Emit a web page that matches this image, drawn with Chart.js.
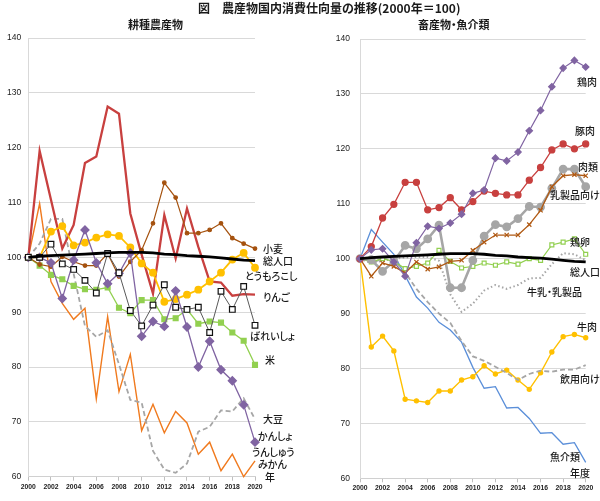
<!DOCTYPE html>
<html><head><meta charset="utf-8">
<script src="https://cdn.jsdelivr.net/npm/chart.js@4/dist/chart.umd.min.js"></script>
<style>
html,body{margin:0;padding:0;background:#fff;}
#wrap{position:relative;width:600px;height:501px;overflow:hidden;font-family:"Noto Sans CJK JP","Noto Sans",sans-serif;}
canvas{position:absolute;top:0;}
.t{position:absolute;white-space:nowrap;line-height:1;color:#1a1a1a;transform:translateY(-50%);font-feature-settings:"palt";}
.lb{font-size:10px;font-weight:500;}
</style></head>
<body><div id="wrap">
<canvas id="c1" width="300" height="501" style="left:0"></canvas>
<canvas id="c2" width="300" height="501" style="left:300px"></canvas>
<div class="t" style="left:198px;top:8px;font-size:12px;font-weight:700;">図　農産物国内消費仕向量の推移(2000年＝100)</div>
<div class="t" style="left:128px;top:24px;font-size:11px;font-weight:700;">耕種農産物</div>
<div class="t" style="left:418px;top:24px;font-size:11px;font-weight:700;">畜産物・魚介類</div>
<div class="t lb" style="left:263px;top:249px;">小麦</div>
<div class="t lb" style="left:263px;top:261px;">総人口</div>
<div class="t lb" style="left:245px;top:276px;">とうもろこし</div>
<div class="t lb" style="left:263px;top:297px;">りんご</div>
<div class="t lb" style="left:250px;top:336px;">ばれいしょ</div>
<div class="t lb" style="left:265px;top:360px;">米</div>
<div class="t lb" style="left:263px;top:419px;">大豆</div>
<div class="t lb" style="left:258px;top:436px;">かんしょ</div>
<div class="t lb" style="left:252px;top:452px;">うんしゅう</div>
<div class="t lb" style="left:258px;top:464px;">みかん</div>
<div class="t lb" style="left:265px;top:477px;">年</div>
<div class="t lb" style="left:577px;top:82px;">鶏肉</div>
<div class="t lb" style="left:575px;top:131px;">豚肉</div>
<div class="t lb" style="left:578px;top:167px;">肉類</div>
<div class="t lb" style="left:550px;top:195px;">乳製品向け</div>
<div class="t lb" style="left:570px;top:242px;">鶏卵</div>
<div class="t lb" style="left:570px;top:272px;">総人口</div>
<div class="t lb" style="left:527px;top:292px;">牛乳・乳製品</div>
<div class="t lb" style="left:577px;top:327px;">牛肉</div>
<div class="t lb" style="left:560px;top:379px;">飲用向け</div>
<div class="t lb" style="left:550px;top:457px;">魚介類</div>
<div class="t lb" style="left:570px;top:473px;">年度</div>
</div>
<script>
const years = [2000,2001,2002,2003,2004,2005,2006,2007,2008,2009,2010,2011,2012,2013,2014,2015,2016,2017,2018,2019,2020];
const yTicks = [60,70,80,90,100,110,120,130,140];
const xTicks = [2000,2002,2004,2006,2008,2010,2012,2014,2016,2018,2020];

// 耕種農産物
const population = [100,100.2,100.3,100.4,100.5,100.6,100.7,100.8,100.9,100.9,100.9,100.8,100.6,100.5,100.3,100.2,100.1,99.9,99.7,99.5,99.4];
const wheat = [100,98.7,98.3,100.1,99.2,98.5,98.5,100.7,96.5,99.2,101.3,106.2,113.6,110.9,104.4,104.4,105.0,106.2,103.5,102.5,101.6];
const apple = [100,119.4,110.5,101.6,105.9,117.2,118.4,127.5,126.2,108.0,100.5,93.4,107.7,99.8,108.9,101.9,95.6,95.4,93.0,93.3,93.2];
const corn = [100,100,104.7,105.7,102.2,102.7,103.6,104.2,103.9,101.8,98.9,97.2,91.9,92.4,93.2,94.1,95.6,97.2,99.6,100.8,98.1];
const potato = [100,100,102.4,98.8,97.8,95.8,93.5,100.7,97.2,90.3,87.5,91.3,95.0,90.9,90.5,90.9,86.3,93.8,90.5,94.7,87.6];
const rice = [100,98.5,96.8,96.0,94.8,94.2,94.1,94.5,90.8,89.8,92.2,92.2,88.7,88.9,90.5,87.9,88.3,88.1,86.3,84.8,80.4];
const sweetPotato = [100,100,99.0,92.5,99.5,105.0,99.0,95.2,97.1,100.8,85.6,88.3,87.4,93.9,87.3,80.0,84.7,79.5,77.5,73.1,66.3];
const soybean = [100,102.5,107.0,107.0,97.0,87.5,85.5,86.7,80.5,74.0,73.5,64.7,61.3,60.7,62.4,68.2,69.1,72.1,71.9,74.3,70.5];
const mikan = [100,109.8,95.6,91.6,88.7,90.7,74.2,89.2,75.5,82.3,68.4,73.2,68.0,71.9,69.8,64.1,66.3,61.1,64.1,60.0,62.9];

// 畜産物・魚介類
const chicken = [100,101.6,101.8,99.4,96.8,102.9,105.9,105.5,106.5,108.1,111.9,112.5,118.3,117.8,119.4,123.3,127.0,131.3,134.7,136.1,134.9];
const pork = [100,102.2,107.4,109.9,113.9,113.9,108.9,109.3,111.1,108.9,110.4,112.3,111.9,111.6,111.6,114.3,116.6,119.8,120.9,120.0,120.9];
const meat = [100,99.8,97.7,99.5,102.4,101.8,103.6,106.1,94.7,94.7,99.7,104.1,106.2,105.8,107.3,109.5,109.4,112.8,116.3,116.3,113.1];
const dairyProducts = [100,96.8,99.2,98.6,97.4,99.4,98.1,98.5,99.5,99.7,101.5,103.0,104.3,104.3,104.3,106.2,108.8,113.1,115.1,115.3,115.1];
const egg = [100,99.4,100.0,99.5,98.2,98.6,99.2,101.5,99.5,98.3,98.6,99.2,98.8,99.4,99.0,100.0,99.7,102.5,103.0,103.6,100.8];
const milkAll = [100,99.2,99.6,100.0,100.2,100.3,100.3,99.6,93.5,90.3,91.8,94.2,95.2,94.5,95.2,96.4,96.5,99.0,101.0,100.8,99.7];
const milkDrink = [100,99.2,100.0,99.7,97.5,94.5,92.1,90.0,88.3,85.0,82.2,81.4,80.3,79.2,77.9,79.0,79.6,79.4,79.8,79.8,80.6];
const beef = [100,83.9,85.9,83.2,74.4,74.1,73.8,75.9,75.9,77.9,78.5,80.5,79.0,79.7,77.9,76.2,79.2,83.0,85.8,86.2,85.6];
const fish = [100,105.3,103.0,100.8,96.9,93.0,91.0,88.4,87.0,84.8,80.2,76.4,76.7,72.8,72.9,70.9,68.2,68.3,66.2,66.5,62.9];

function pts(arr){ return years.map((y,i)=>({x:y,y:arr[i]})); }
function ds(label, arr, o){
  return Object.assign({label, data:pts(arr), borderWidth:1.3, pointRadius:0, tension:0, clip:8, fill:false}, o);
}

function makeOptions(yPad, padRight, padTop, xH){
  return {
    responsive:false, animation:false, devicePixelRatio:1,
    layout:{padding:{top:padTop,right:padRight,left:0,bottom:0}},
    plugins:{legend:{display:false}, tooltip:{enabled:false}},
    scales:{
      x:{type:'linear', min:2000, max:2020,
        afterBuildTicks:(s)=>{ s.ticks = xTicks.map(v=>({value:v})); },
        afterFit:(s)=>{ s.height = xH; },
        grid:{drawOnChartArea:false, drawTicks:true, tickLength:4, color:'#bfbfbf'},
        border:{color:'#d0d0d0'},
        ticks:{padding:2, maxRotation:0, autoSkip:false, color:'#222', font:{family:'Liberation Sans', size:6.8, weight:'bold'}, callback:(v)=>String(v)}
      },
      y:{min:60, max:140,
        afterBuildTicks:(s)=>{ s.ticks = yTicks.map(v=>({value:v})); },
        afterFit:(s)=>{ s.width = yPad; },
        grid:{color:'#d9d9d9', drawTicks:false, lineWidth:1},
        border:{color:'#d9d9d9'},
        ticks:{padding: yPad===28.3?7:10, color:'#222', font:{family:'Liberation Sans', size:8.5}}
      }
    }
  };
}

new Chart(document.getElementById('c1'), {
  type:'line',
  data:{datasets:[
    ds('総人口', population, {borderColor:'#000', borderWidth:2.8}),
    ds('ばれいしょ', potato, {borderColor:'#595959', borderWidth:1, pointRadius:4, pointStyle:'rect', pointBackgroundColor:'#fff', pointBorderColor:'#111', pointBorderWidth:1.2}),
    ds('かんしょ', sweetPotato, {borderColor:'#8064a2', borderWidth:1.3, pointRadius:4, pointStyle:'rectRot', pointBackgroundColor:'#8064a2', pointBorderColor:'#8064a2'}),
    ds('小麦', wheat, {borderColor:'#a5520f', borderWidth:1.2, pointRadius:1.8, pointBackgroundColor:'#a5520f', pointBorderColor:'#a5520f'}),
    ds('とうもろこし', corn, {borderColor:'#ffc000', borderWidth:1.8, pointRadius:3, pointBackgroundColor:'#ffc000', pointBorderColor:'#ffc000'}),
    ds('米', rice, {borderColor:'#92d050', borderWidth:1.3, pointRadius:3.4, pointStyle:'rect', pointBackgroundColor:'#92d050', pointBorderColor:'#92d050'}),
    ds('りんご', apple, {borderColor:'#c8403f', borderWidth:2.3}),
    ds('大豆', soybean, {borderColor:'#a6a6a6', borderWidth:1.8, borderDash:[5,3]}),
    ds('うんしゅうみかん', mikan, {borderColor:'#f07a1e', borderWidth:1.4})
  ]},
  options: makeOptions(28.3, 45, 38, 24.3)
});

new Chart(document.getElementById('c2'), {
  type:'line',
  data:{datasets:[
    ds('総人口', population, {borderColor:'#000', borderWidth:2.8}),
    ds('鶏肉', chicken, {borderColor:'#8064a2', borderWidth:1.2, pointRadius:3.2, pointStyle:'rectRot', pointBackgroundColor:'#8064a2', pointBorderColor:'#8064a2'}),
    ds('豚肉', pork, {borderColor:'#c8403f', borderWidth:1.3, pointRadius:3, pointBackgroundColor:'#c8403f', pointBorderColor:'#c8403f'}),
    ds('乳製品向け', dairyProducts, {borderColor:'#b05a14', borderWidth:1.3, pointRadius:3, pointStyle:'crossRot', pointBorderColor:'#b05a14', pointBorderWidth:1.2}),
    ds('肉類', meat, {borderColor:'#a6a6a6', borderWidth:2.6, pointRadius:3.1, pointBackgroundColor:'#a6a6a6', pointBorderColor:'#a6a6a6'}),
    ds('鶏卵', egg, {borderColor:'#92d050', borderWidth:1.2, pointRadius:2.8, pointStyle:'rect', pointBackgroundColor:'#fff', pointBorderColor:'#92d050', pointBorderWidth:1.2}),
    ds('牛乳・乳製品', milkAll, {borderColor:'#a6a6a6', borderWidth:2, borderDash:[1.5,2.5]}),
    ds('飲用向け', milkDrink, {borderColor:'#a6a6a6', borderWidth:1.8, borderDash:[5,3]}),
    ds('牛肉', beef, {borderColor:'#ffc000', borderWidth:1.4, pointRadius:2, pointBackgroundColor:'#ffc000', pointBorderColor:'#ffc000'}),
    ds('魚介類', fish, {borderColor:'#5b8fd9', borderWidth:1.3})
  ]},
  options: makeOptions(60, 14.3, 39, 22.7)
});
</script>
</body></html>
